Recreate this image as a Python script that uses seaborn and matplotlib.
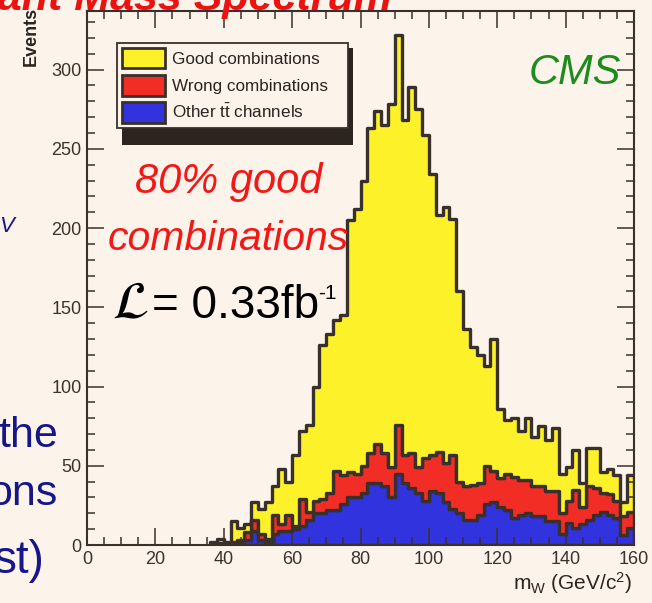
import numpy as np
import pandas as pd
import matplotlib
matplotlib.use("Agg")
import matplotlib.pyplot as plt
from matplotlib.patches import Patch, Rectangle
from matplotlib.ticker import MultipleLocator
import seaborn as sns

# ---------------- data (2 GeV bins, lower edges) ----------------
bin_low = list(range(36, 160, 2))
good = [2, 3, 1, 13, 8, 5, 11, 16, 23, 18,
        35, 21, 45, 43, 55, 72, 97, 100, 95, 101,
        159, 167, 180, 205, 210, 207, 229, 246, 211, 231,
        226, 204, 177, 149, 161, 149, 120, 99, 87, 81,
        63, 83, 44, 34, 37, 31, 39, 31, 38, 32,
        40, 25, 21, 25, 15, 24, 25, 13, 16, 16,
        9, 23]
wrong = [0, 1, 1, 1, 1, 5, 7, 4, 2, 12,
         4, 10, 2, 17, 5, 8, 9, 11, 25, 18,
         16, 15, 17, 19, 25, 21, 19, 31, 18, 22,
         16, 27, 23, 26, 25, 34, 20, 21, 22, 20,
         24, 20, 18, 23, 26, 22, 21, 19, 19, 19,
         19, 13, 14, 24, 11, 21, 17, 12, 13, 11,
         12, 10]
other = [0, 0, 0, 1, 2, 3, 9, 3, 2, 7,
         9, 9, 10, 12, 16, 20, 20, 22, 22, 26,
         30, 30, 33, 39, 39, 37, 30, 45, 39, 36,
         33, 28, 34, 33, 27, 23, 20, 16, 16, 19,
         26, 27, 24, 22, 17, 19, 20, 18, 18, 15,
         15, 7, 14, 11, 13, 16, 19, 21, 19, 17,
         6, 11]
labels = ["Good combinations", "Wrong combinations", r"Other t$\bar{\mathrm{t}}$ channels"]
colors = ["#fdf22a", "#f22d26", "#3033de"]
xticks = [0, 20, 40, 60, 80, 100, 120, 140, 160]
yticks = [0, 50, 100, 150, 200, 250, 300]

bin_width = 2
edges = bin_low + [bin_low[-1] + bin_width]
rows = []
for lab, vals in zip(labels, [good, wrong, other]):
    for lo, v in zip(bin_low, vals):
        rows.append({"m": lo + bin_width / 2, "count": v, "channel": lab})
df = pd.DataFrame(rows)

# ---------------- style ----------------
BG = "#fcf4ea"
DARK = "#3a302b"
plt.rcParams["font.family"] = ["Liberation Sans", "DejaVu Sans"]
plt.rcParams["mathtext.fontset"] = "custom"
plt.rcParams["mathtext.rm"] = "Liberation Sans"
plt.rcParams["mathtext.it"] = "Liberation Sans:italic"

W, H = 652, 603
fig = plt.figure(figsize=(W / 100, H / 100), dpi=100, facecolor=BG)

def fx(px):
    return px / W

def fy(py):
    return 1 - py / H

AX_L, AX_R, AX_T, AX_B = 87, 634, 11, 545
ax = fig.add_axes([fx(AX_L), fy(AX_B), (AX_R - AX_L) / W, (AX_B - AX_T) / H])
ax.set_facecolor(BG)

sns.histplot(data=df, x="m", weights="count", hue="channel", hue_order=labels,
             multiple="stack", bins=edges, element="step", fill=True,
             palette=colors, alpha=1, linewidth=2.4, edgecolor=DARK,
             legend=False, ax=ax)

ax.set_xlim(0, 160)
ax.set_ylim(0, 337)
ax.set_xticks(xticks)
ax.set_yticks(yticks)
ax.xaxis.set_minor_locator(MultipleLocator(5))
ax.yaxis.set_minor_locator(MultipleLocator(10))
ax.set_xlabel("")
ax.set_ylabel("")
for s in ax.spines.values():
    s.set_color(DARK)
    s.set_linewidth(1.5)
ax.tick_params(which="both", direction="in", top=True, right=True,
               color=DARK, width=1.1, labelcolor="#3a332d", labelsize=13)
ax.tick_params(which="major", length=12)
ax.tick_params(which="minor", length=6)
ax.tick_params(axis="x", pad=4)
ax.tick_params(axis="y", pad=4)

# legend
def axx(px):
    return (px - AX_L) / (AX_R - AX_L)

def axy(py):
    return (AX_B - py) / (AX_B - AX_T)

handles = [Patch(facecolor=c, edgecolor=DARK, linewidth=2) for c in colors]
lx0, ly0, lx1, ly1 = 117, 43, 348, 140
shadow = Rectangle((axx(lx0 + 5), axy(ly1 + 5)), axx(lx1) - axx(lx0), axy(ly0) - axy(ly1),
                   transform=ax.transAxes, facecolor="#2b241f", edgecolor="none", zorder=5)
ax.add_patch(shadow)
leg = ax.legend(handles, labels, loc="upper left",
                bbox_to_anchor=(axx(lx0), axy(ly1), axx(lx1) - axx(lx0), axy(ly0) - axy(ly1)),
                mode="expand", borderaxespad=0, fontsize=12.3, handlelength=2.5,
                handleheight=1.45, handletextpad=0.4, labelspacing=0.4,
                borderpad=0.3, fancybox=False, framealpha=1, facecolor=BG,
                edgecolor=DARK, labelcolor="#2a2420")
leg.get_frame().set_linewidth(1.3)
leg.set_zorder(6)

# annotations
fig.text(fx(229), fy(193), "80% good", ha="center", va="baseline", fontsize=30,
         style="italic", color="#f21818")
fig.text(fx(228), fy(250), "combinations", ha="center", va="baseline", fontsize=29.5,
         style="italic", color="#f21818")
fig.text(fx(148), fy(318), r"$\mathcal{L}$", ha="right", va="baseline", fontsize=38,
         color="black", math_fontfamily="stix")
fig.text(fx(152), fy(318), "= 0.33fb", ha="left", va="baseline", fontsize=33, color="black")
fig.text(fx(318), fy(299), "-1", ha="left", va="baseline", fontsize=15, color="black")
fig.text(fx(575), fy(84), "CMS", ha="center", va="baseline", fontsize=30,
         style="italic", color="#1c8c1c")

# axis titles
fig.text(fx(31), fy(7), "Events", rotation=90, ha="center", va="top",
         fontsize=13, fontweight="bold", color="#2a2420")
fig.text(fx(632), fy(590), r"m$_\mathregular{W}$ (GeV/c$^\mathregular{2}$)", ha="right",
         va="baseline", fontsize=15, color="#2a2420")

# slide fragments around the plot
fig.text(fx(392), fy(10), "Invariant Mass Spectrum", ha="right", va="baseline",
         fontsize=31, fontweight="bold", style="italic", color="#ee1111")
navy = "#16168a"
fig.text(fx(58), fy(447), "the", ha="right", va="baseline", fontsize=31,
         color=navy)
fig.text(fx(58), fy(505), "ons", ha="right", va="baseline", fontsize=31,
         color=navy)
fig.text(fx(45), fy(573), "st)", ha="right", va="baseline", fontsize=33,
         color=navy)
fig.text(fx(14), fy(232), "V", ha="right", va="baseline", fontsize=16,
         style="italic", color=navy)

fig.savefig("out.png", dpi=100, facecolor=BG)
